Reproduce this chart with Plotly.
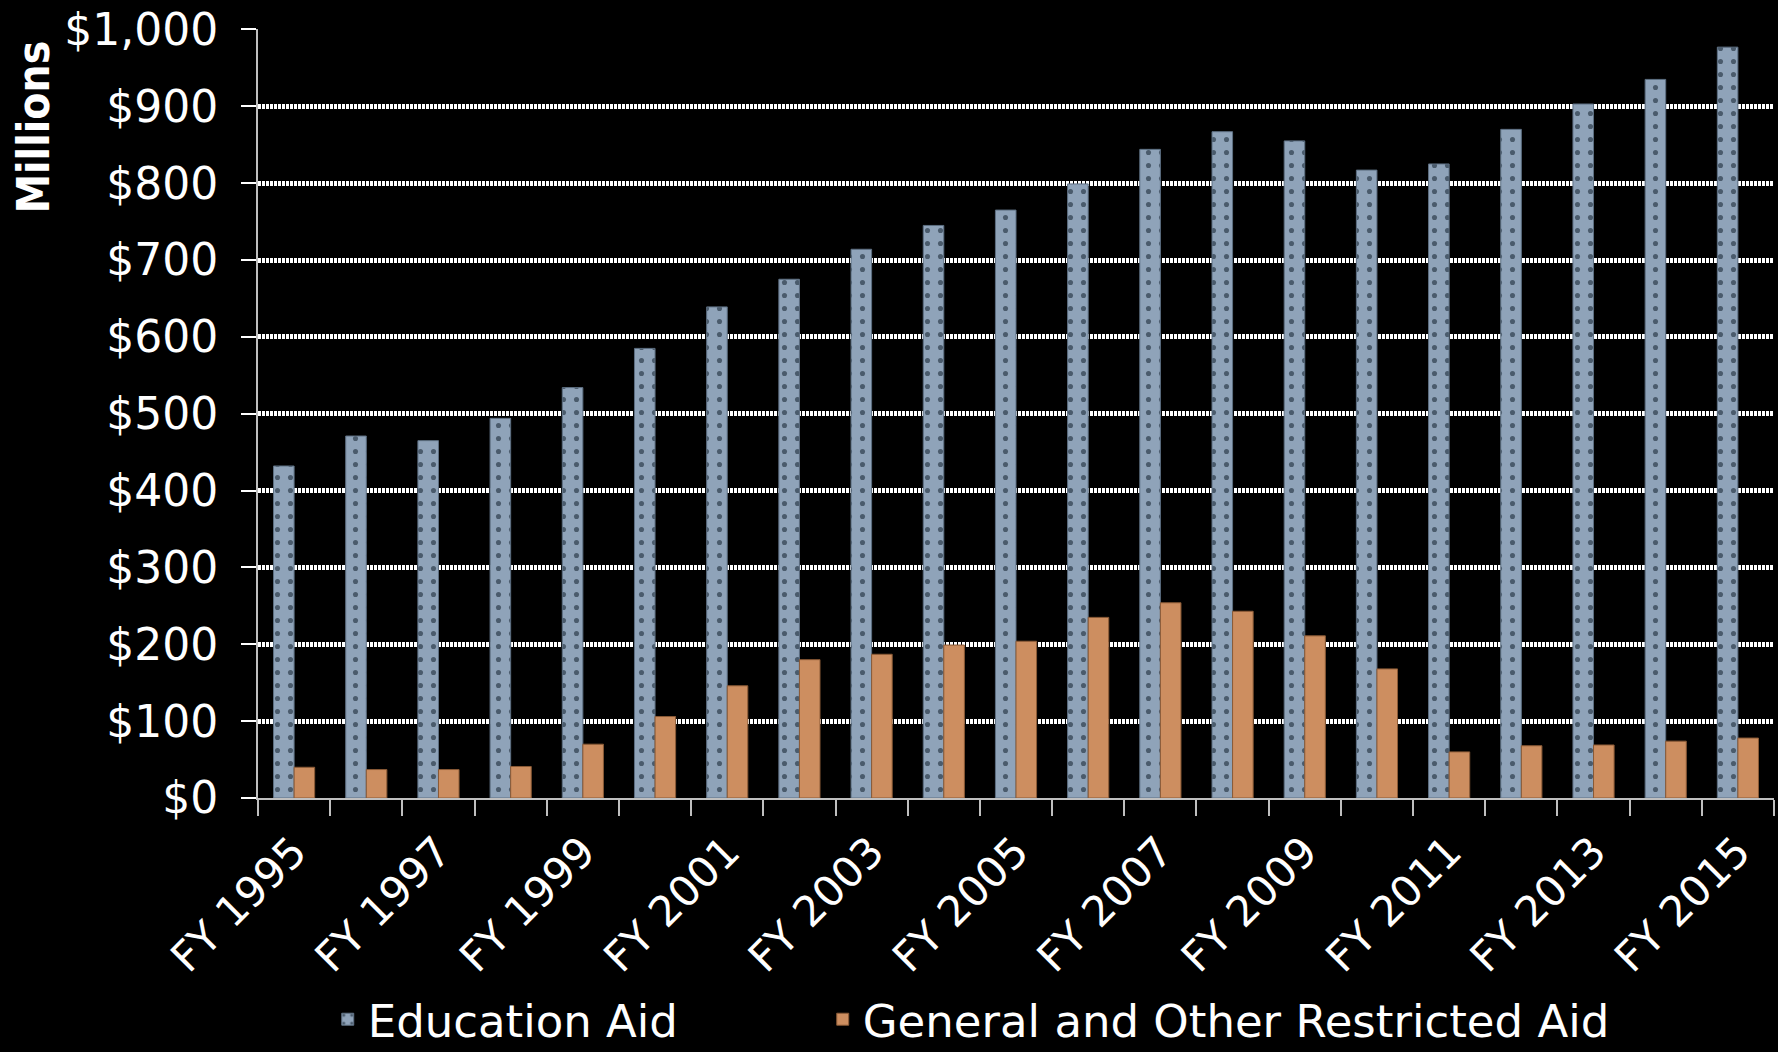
#bar chart of education aid vs general/other restricted aid, FY 1995 - FY 2015
import plotly.graph_objects as go

#fiscal years (numeric so ticks can sit on the category boundaries)
years = list(range(1995, 2016))
#tick labels, every other year
label_years = [1995, 1997, 1999, 2001, 2003, 2005, 2007, 2009, 2011, 2013, 2015]
label_text = ["FY " + str(y) for y in label_years]

#values in millions of dollars
education_aid = [432, 471, 465, 494, 534, 585, 639, 675, 714, 745, 765,
                 799, 844, 867, 855, 817, 825, 870, 903, 935, 977]
general_aid = [40, 37, 37, 41, 70, 106, 146, 180, 187, 199, 204,
               235, 254, 243, 211, 168, 60, 68, 69, 74, 78]

FONT = "DejaVu Sans"

fig = go.Figure()

fig.add_trace(go.Bar(
    x=years, y=education_aid, name="Education Aid", legendwidth=450,
    marker=dict(color="#8fa3b9", line=dict(color="#5d6f82", width=1),
                pattern=dict(shape=".", bgcolor="#8fa3b9", fgcolor="#4a5b6c",
                             size=13, solidity=0.12, fillmode="replace")),
))
fig.add_trace(go.Bar(
    x=years, y=general_aid, name="General and Other Restricted Aid", legendwidth=860,
    marker=dict(color="#cd8e60", line=dict(color="#8a5a36", width=1)),
))

fig.update_layout(
    width=1778, height=1052,
    paper_bgcolor="black", plot_bgcolor="black",
    margin=dict(l=258, r=4, t=29, b=254, autoexpand=False),
    barmode="group", bargap=0.43, bargroupgap=0,
    font=dict(family=FONT, color="white", size=40),
    showlegend=True,
    legend=dict(orientation="h", x=0.046, xanchor="left", y=-0.288, yanchor="middle",
                font=dict(size=45, color="white"),
                bgcolor="rgba(0,0,0,0)"),
)

fig.update_xaxes(
    range=[1994.5, 2015.5], automargin=False,
    tickmode="array", tickvals=label_years, ticktext=label_text,
    tickangle=-45, ticks="", tickfont=dict(size=42), ticklabelstandoff=10,
    showline=True, linecolor="#bfbfbf", linewidth=2,
    showgrid=False, zeroline=False,
    minor=dict(ticks="outside", ticklen=16, tickcolor="#bfbfbf", tickwidth=2,
               tick0=1994.5, dtick=1, showgrid=False),
)

fig.update_yaxes(
    range=[0, 1000.6], dtick=100, tickprefix="$", tickformat=",", automargin=False,
    ticks="outside", ticklen=15, tickcolor="white", tickwidth=2,
    ticklabelstandoff=14, tickfont=dict(size=44),
    showline=True, linecolor="#bfbfbf", linewidth=2,
    showgrid=True, gridcolor="white", gridwidth=5, griddash="3px,1px",
    zeroline=False,
)

#y axis title sits near the top, not centred on the axis
fig.add_annotation(
    text="<b>Millions</b>", xref="paper", yref="paper",
    x=-0.148, y=0.988, xanchor="center", yanchor="top",
    textangle=-90, showarrow=False,
    font=dict(family="DejaVu Sans Condensed, Liberation Sans Narrow, DejaVu Sans",
              size=44, color="white"),
)

#drop the page margin so the chart fills the window like the original
fig.write_html("out.html", config={"displayModeBar": False},
               post_script="document.body.style.margin='0';document.body.style.background='black';")
